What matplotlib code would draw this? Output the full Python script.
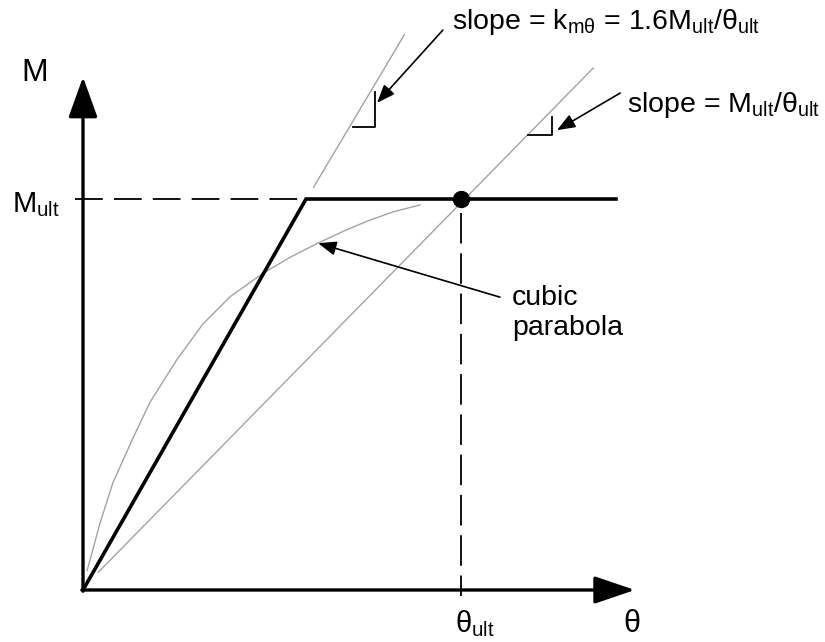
import numpy as np
import matplotlib
matplotlib.use("Agg")
import matplotlib.pyplot as plt

plt.rcParams['font.family'] = ['Liberation Sans', 'DejaVu Sans']
plt.rcParams['mathtext.fontset'] = 'custom'
plt.rcParams['mathtext.rm'] = 'Liberation Sans'
plt.rcParams['mathtext.it'] = 'Liberation Sans'
plt.rcParams['lines.scale_dashes'] = False

# normalised units: theta / theta_ult, M / M_ult
theta_ult = 1.0
M_ult = 1.0

# bilinear (elastic - perfectly plastic) model
bilin_theta = [0.0, 0.59, 1.41]
bilin_M = [0.0, 1.0, 1.0]

# cubic parabola
cubic_theta = [0.011, 0.045, 0.079, 0.13, 0.177, 0.249, 0.317, 0.389,
               0.476, 0.55, 0.619, 0.69, 0.751, 0.82, 0.892]
cubic_M = [0.05, 0.171, 0.274, 0.384, 0.48, 0.59, 0.68, 0.75,
           0.81, 0.852, 0.886, 0.918, 0.943, 0.967, 0.985]

# initial stiffness line (k = 1.6 M_ult/theta_ult), drawn above the kink
steep_theta = [0.61, 0.85]
steep_M = [1.03, 1.42]

# secant line through the ultimate point
secant_theta = [0.04, 1.35]
secant_M = [0.045, 1.335]

fig = plt.figure(figsize=(8.25, 6.42), dpi=100)
ax = fig.add_axes([0, 0, 1, 1])
ax.set_xlim(-0.2196, 1.963)
ax.set_ylim(-0.133, 1.509)
ax.set_axis_off()

gray = '0.64'
ax.plot(steep_theta, steep_M, color=gray, lw=1.0)
ax.plot(secant_theta, secant_M, color=gray, lw=1.0)
ax.plot(cubic_theta, cubic_M, color=gray, lw=1.0)

# dashed guides
ax.plot([-0.02, bilin_theta[1]], [M_ult, M_ult], color='k', lw=1.3,
        dashes=(20, 8))
ax.plot([theta_ult, theta_ult], [0.964, -0.015], color='k', lw=1.3,
        dashes=(22, 7))

ax.plot(bilin_theta, bilin_M, color='k', lw=2.6, solid_joinstyle='miter')
ax.plot([theta_ult], [M_ult], 'o', color='k', ms=11.5)

# axes with arrows
ax.annotate('', xy=(0, 1.312), xytext=(0, -0.003),
            arrowprops=dict(arrowstyle='-|>,head_length=25,head_width=9',
                            mutation_scale=1, lw=2.4, color='k',
                            shrinkA=0, shrinkB=0))
ax.annotate('', xy=(1.46, 0), xytext=(-0.003, 0),
            arrowprops=dict(arrowstyle='-|>,head_length=25,head_width=8.5',
                            mutation_scale=1, lw=2.4, color='k',
                            shrinkA=0, shrinkB=0))

# right-angle slope marks
ax.plot([0.714, 0.772, 0.772], [1.184, 1.184, 1.274], color='k', lw=1.3)
ax.plot([1.177, 1.241, 1.241], [1.164, 1.164, 1.210], color='k', lw=1.3)

arr = dict(arrowstyle='-|>,head_length=11,head_width=4.3', mutation_scale=1,
           lw=1.2, color='k', shrinkA=0, shrinkB=0)
ax.annotate('', xy=(0.778, 1.246), xytext=(0.952, 1.432), arrowprops=arr)
ax.annotate('', xy=(1.254, 1.176), xytext=(1.421, 1.271), arrowprops=arr)
ax.annotate('', xy=(0.622, 0.887), xytext=(1.103, 0.749), arrowprops=arr)

fs = 20.5
ax.text(0.976, 1.435, r'slope = k$_{m\theta}$ = 1.6M$_{ult}$/$\theta_{ult}$',
        fontsize=fs, va='baseline', ha='left')
ax.text(1.439, 1.223, r'slope = M$_{ult}$/$\theta_{ult}$',
        fontsize=fs, va='baseline', ha='left')
ax.text(1.135, 0.729, 'cubic', fontsize=fs, va='baseline', ha='left')
ax.text(1.135, 0.652, 'parabola', fontsize=fs, va='baseline', ha='left')

ax.text(-0.188, 0.967, r'M$_{ult}$', fontsize=21, va='baseline', ha='left')
ax.text(0.984, -0.107, r'$\theta_{ult}$', fontsize=21, va='baseline', ha='left')
ax.text(1.429, -0.107, r'$\theta$', fontsize=22, va='baseline', ha='left')
ax.text(-0.127, 1.322, 'M', fontsize=23, va='center', ha='center')

fig.savefig('out.png', dpi=100)
